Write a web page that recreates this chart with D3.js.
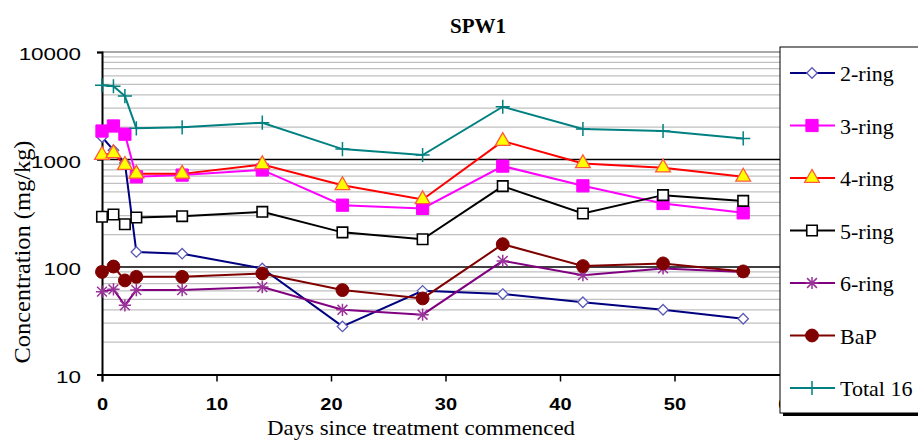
<!DOCTYPE html>
<html>
<head>
<meta charset="utf-8">
<script src="https://cdn.jsdelivr.net/npm/d3@7/dist/d3.min.js"></script>
<style>
  html, body { margin: 0; padding: 0; background: #fff; }
  svg { display: block; }
</style>
</head>
<body>
<svg id="chart" width="918" height="444"></svg>
<script>
// ---- Data ----
const days = [0, 1, 2, 3, 7, 14, 21, 28, 35, 42, 49, 56];
const ring2  = [1620, 1220, 930, 138, 133, 97, 28, 60, 56, 47, 40, 33];
const ring3  = [1840, 2050, 1720, 690, 716, 800, 376, 351, 868, 569, 390, 319];
const ring4  = [1100, 1140, 887, 735, 735, 900, 575, 425, 1483, 920, 840, 690];
const ring5  = [293, 308, 250, 289, 297, 326, 210, 181, 565, 315, 466, 412];
const ring6  = [59, 62, 44, 61, 61, 65, 40, 36, 114, 84, 97, 90];
const bap    = [90, 101, 75, 81, 81, 87, 61, 51, 163, 102, 108, 91];
const total16 = [4900, 4800, 3890, 1950, 1990, 2200, 1250, 1100, 3095, 1920, 1840, 1570];
const seriesNames = ["2-ring", "3-ring", "4-ring", "5-ring", "6-ring", "BaP", "Total 16"];
const xTicks = [0, 10, 20, 30, 40, 50, 60];
const yTicks = [10, 100, 1000, 10000];
const title = "SPW1";
const xTitle = "Days since treatment commenced";
const yTitle = "Concentration (mg/kg)";

// ---- Custom marker shapes ----
const plusSym = { draw(c, s) { const r = Math.sqrt(s) / 2; c.moveTo(-r, 0); c.lineTo(r, 0); c.moveTo(0, -r); c.lineTo(0, r); } };
const starSym = { draw(c, s) {
  const r = Math.sqrt(s) / 2;
  c.moveTo(-r, 0); c.lineTo(r, 0);
  const a = r * 0.8;
  c.moveTo(-a, -a); c.lineTo(a, a);
  c.moveTo(-a, a); c.lineTo(a, -a);
  c.moveTo(0, -r); c.lineTo(0, r);
} };

const series = [
  { name: seriesNames[0], values: ring2,  line: "#000080", sym: d3.symbolDiamond2, size: 70,  fill: "#fff",    stroke: "#5a5ab8", sw: 1.3 },
  { name: seriesNames[1], values: ring3,  line: "#ff00ff", sym: d3.symbolSquare,  size: 150, fill: "#ff00ff", stroke: "#ff00ff", sw: 1 },
  { name: seriesNames[2], values: ring4,  line: "#ff0000", sym: d3.symbolTriangle, size: 95, fill: "#ffff00", stroke: "#ff5a3c", sw: 1.3 },
  { name: seriesNames[3], values: ring5,  line: "#000000", sym: d3.symbolSquare,  size: 110, fill: "#fff",    stroke: "#000000", sw: 1.6 },
  { name: seriesNames[4], values: ring6,  line: "#800080", sym: starSym,          size: 150, fill: "none",    stroke: "#993399", sw: 1.5 },
  { name: seriesNames[5], values: bap,    line: "#800000", sym: d3.symbolCircle,  size: 130, fill: "#800000", stroke: "#800000", sw: 1 },
  { name: seriesNames[6], values: total16, line: "#008080", sym: plusSym,         size: 200, fill: "none",    stroke: "#008080", sw: 1.5 }
];

// ---- Scales ----
const svg = d3.select("#chart");
const x = d3.scaleLinear().domain([0, 60]).range([102, 789]);
const y = d3.scaleLog().domain([10, 10000]).range([374.5, 52]);

// ---- Gridlines ----
const minorVals = [];
[10, 100, 1000].forEach(dec => { for (let k = 2; k <= 9; k++) minorVals.push(dec * k); });
const grid = svg.append("g");
grid.selectAll("line.minor").data(minorVals).join("line")
  .attr("x1", x(0)).attr("x2", x(60))
  .attr("y1", d => y(d)).attr("y2", d => y(d))
  .attr("stroke", "#c0c0c0").attr("stroke-width", 1.2);
grid.append("line").attr("x1", x(0)).attr("x2", x(60))
  .attr("y1", y(10000)).attr("y2", y(10000))
  .attr("stroke", "#a8a8a8").attr("stroke-width", 2);
grid.selectAll("line.major").data([100, 1000]).join("line")
  .attr("x1", x(0)).attr("x2", x(60))
  .attr("y1", d => y(d)).attr("y2", d => y(d))
  .attr("stroke", "#000").attr("stroke-width", 1.5);

// ---- Axes ----
const xAxis = svg.append("g").attr("transform", `translate(0,${y(10)})`)
  .call(d3.axisBottom(x).tickValues(xTicks).tickSize(7).tickPadding(17).tickFormat(d3.format("d")));
xAxis.select(".domain").attr("stroke-width", 2);
xAxis.selectAll(".tick line").attr("stroke-width", 1.5);
xAxis.selectAll("text")
  .attr("font-family", "Liberation Sans, Arial, sans-serif")
  .attr("font-size", 16).attr("font-weight", "bold").attr("fill", "#000")
  .attr("transform", "scale(1.25,1)");

const yAxis = svg.append("g").attr("transform", `translate(${x(0)},0)`)
  .call(d3.axisLeft(y).tickValues(yTicks).tickSize(5).tickPadding(16).tickFormat(d3.format("d")));
yAxis.select(".domain").attr("stroke-width", 2);
yAxis.selectAll(".tick line").attr("stroke-width", 1.5);
yAxis.selectAll("text")
  .attr("font-family", "Liberation Sans, Arial, sans-serif")
  .attr("font-size", 17).attr("fill", "#000")
  .attr("x", -21 / 1.32).attr("dy", "0.45em")
  .attr("transform", "scale(1.32,1)");

// ---- Lines and markers ----
const lineGen = d3.line().x((d, i) => x(days[i])).y(d => y(d));
series.forEach(s => {
  svg.append("path").datum(s.values)
    .attr("d", lineGen).attr("fill", "none")
    .attr("stroke", s.line).attr("stroke-width", 2);
});
series.forEach(s => {
  svg.append("g").selectAll("path").data(s.values).join("path")
    .attr("transform", (d, i) => `translate(${x(days[i])},${y(d)})`)
    .attr("d", d3.symbol().type(s.sym).size(s.size))
    .attr("fill", s.fill).attr("stroke", s.stroke).attr("stroke-width", s.sw);
});

// ---- Titles ----
svg.append("text").attr("x", 478).attr("y", 33).attr("text-anchor", "middle")
  .attr("font-family", "Liberation Serif, Times New Roman, serif")
  .attr("font-size", 21).attr("font-weight", "bold").text(title);
svg.append("text").attr("x", 421).attr("y", 435).attr("text-anchor", "middle")
  .attr("font-family", "Liberation Serif, Times New Roman, serif")
  .attr("font-size", 22).attr("textLength", 308).attr("lengthAdjust", "spacingAndGlyphs").text(xTitle);
svg.append("text").attr("transform", "translate(30,252) rotate(-90)").attr("text-anchor", "middle")
  .attr("font-family", "Liberation Serif, Times New Roman, serif")
  .attr("font-size", 24).attr("textLength", 223).attr("lengthAdjust", "spacingAndGlyphs").text(yTitle);

// ---- Legend ----
const lg = svg.append("g");
lg.append("rect").attr("x", 783).attr("y", 50).attr("width", 200).attr("height", 366).attr("fill", "#000");
lg.append("rect").attr("x", 780).attr("y", 47).attr("width", 200).attr("height", 366)
  .attr("fill", "#fff").attr("stroke", "#000").attr("stroke-width", 1);
const ly = d3.scalePoint().domain(seriesNames).range([73, 388]);
series.forEach(s => {
  const gy = ly(s.name);
  lg.append("line").attr("x1", 790).attr("x2", 835).attr("y1", gy).attr("y2", gy)
    .attr("stroke", s.line).attr("stroke-width", 2);
  lg.append("path").attr("transform", `translate(812,${gy})`)
    .attr("d", d3.symbol().type(s.sym).size(s.size))
    .attr("fill", s.fill).attr("stroke", s.stroke).attr("stroke-width", s.sw);
  lg.append("text").attr("x", 840).attr("y", gy + 8)
    .attr("font-family", "Liberation Serif, Times New Roman, serif")
    .attr("font-size", 22).text(s.name);
});
</script>
</body>
</html>
